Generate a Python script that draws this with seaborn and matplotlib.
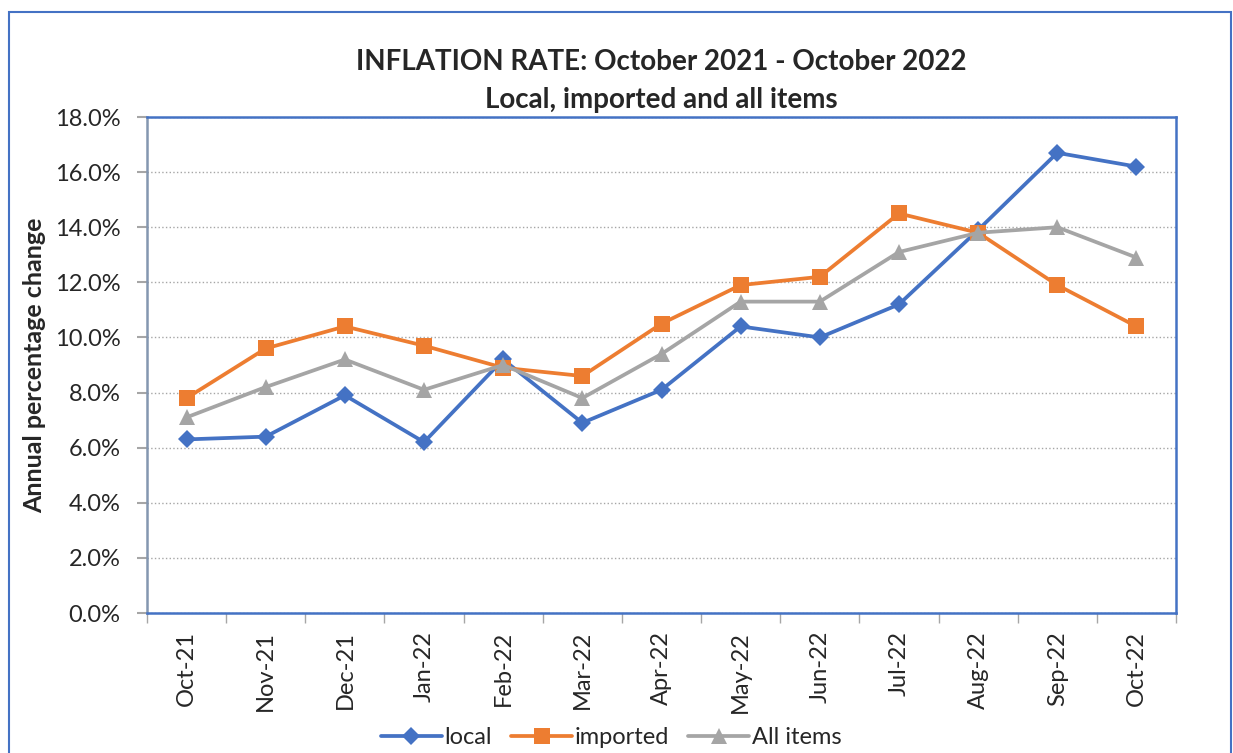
import pandas as pd
import seaborn as sns
import matplotlib.pyplot as plt
from matplotlib.patches import Rectangle
from matplotlib.ticker import FuncFormatter, FixedLocator

# data (annual % change)
months = ["Oct-21", "Nov-21", "Dec-21", "Jan-22", "Feb-22", "Mar-22", "Apr-22",
          "May-22", "Jun-22", "Jul-22", "Aug-22", "Sep-22", "Oct-22"]
local = [6.3, 6.4, 7.9, 6.2, 9.2, 6.9, 8.1, 10.4, 10.0, 11.2, 13.9, 16.7, 16.2]
imported = [7.8, 9.6, 10.4, 9.7, 8.9, 8.6, 10.5, 11.9, 12.2, 14.5, 13.8, 11.9, 10.4]
all_items = [7.1, 8.2, 9.2, 8.1, 9.0, 7.8, 9.4, 11.3, 11.3, 13.1, 13.8, 14.0, 12.9]
series_names = ["local", "imported", "All items"]

colors = {"local": "#4472C4", "imported": "#ED7D31", "All items": "#A5A5A5"}
markers = {"local": "D", "imported": "s", "All items": "^"}

df = pd.DataFrame({
    "month": months * 3,
    "pos": list(range(len(months))) * 3,
    "value": local + imported + all_items,
    "series": [s for s in series_names for _ in months],
})

sns.set_style("white")
plt.rcParams["font.family"] = ["Lato", "DejaVu Sans"]

fig = plt.figure(figsize=(12.33, 7.53), dpi=100)
ax = fig.add_axes([147 / 1233, 1 - 613 / 753, (1176 - 147) / 1233, (613 - 117) / 753])

sns.lineplot(data=df, x="pos", y="value", hue="series", style="series",
             palette=colors, markers=markers, dashes=False, linewidth=2.7,
             markersize=12, markeredgewidth=0, ax=ax, legend=False)
# diamonds drawn larger by matplotlib, shrink them
for line in ax.get_lines():
    if line.get_marker() == "D":
        line.set_markersize(9.5)

ax.set_xlim(-0.5, len(months) - 0.5)
ax.set_ylim(0, 18)
ax.set_yticks(range(0, 19, 2))
ax.yaxis.set_major_formatter(FuncFormatter(lambda v, p: f"{v:.1f}%"))
ax.set_xticks(range(len(months)))
ax.set_xticklabels(months, rotation=90)
ax.xaxis.set_minor_locator(FixedLocator([i - 0.5 for i in range(len(months) + 1)]))
ax.tick_params(axis="x", which="major", length=0, pad=13, labelsize=17)
ax.tick_params(axis="x", which="minor", length=7, width=1, color="#A6A6A6", bottom=True)
ax.tick_params(axis="y", length=7, width=1.5, color="#A6A6A6", left=True, labelsize=17, pad=12)
ax.grid(axis="y", linestyle=":", color="#A6A6A6", linewidth=1)
ax.set_axisbelow(True)

for side, sp in ax.spines.items():
    sp.set_visible(True)
    sp.set_color("#4472C4")
    sp.set_linewidth(1.8)
ax.spines["left"].set_color("#8497B0")

ax.set_xlabel("")
ax.set_ylabel("Annual percentage change", fontsize=18, fontweight="bold")
ax.yaxis.set_label_coords(-(147 - 46) / 1029, 0.5)

cx = (147 + 1176) / 2 / 1233
fig.text(cx, 1 - 62 / 753, "INFLATION RATE: October 2021 - October 2022",
         ha="center", va="center", fontsize=20, fontweight="bold")
fig.text(cx, 1 - 100 / 753, "Local, imported and all items",
         ha="center", va="center", fontsize=20, fontweight="bold")

handles = []
for name in series_names:
    h, = ax.plot([], [], color=colors[name], marker=markers[name], linewidth=2.7,
                 markersize=9.5 if markers[name] == "D" else 12, markeredgewidth=0)
    handles.append(h)
ax.legend(handles, series_names, loc="center", ncol=3, frameon=False, fontsize=17,
          bbox_to_anchor=(611 / 1233, 1 - 738 / 753), bbox_transform=fig.transFigure,
          handlelength=2.6, handletextpad=0.1, columnspacing=0.8)

# outer chart border
fig.add_artist(Rectangle((9 / 1233, -0.05), (1231 - 9) / 1233, 1.05 - 12 / 753,
                         transform=fig.transFigure, fill=False,
                         edgecolor="#4472C4", linewidth=1.5, clip_on=False))

fig.savefig("out.png", dpi=100)
